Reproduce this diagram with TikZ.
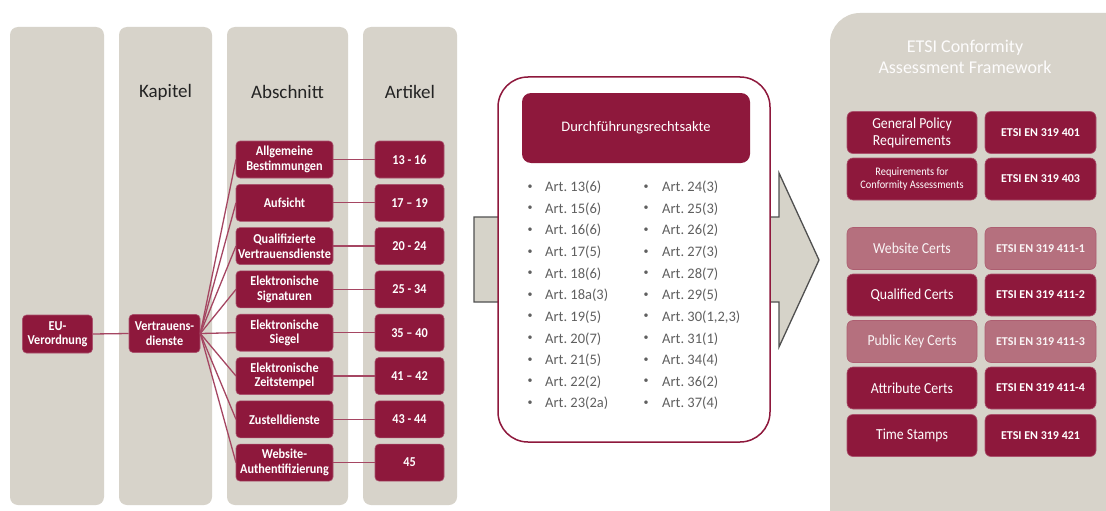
\documentclass[tikz,border=0pt]{standalone}
\usepackage{fontspec}
\setmainfont{Carlito}
\newfontfamily\condfont{Carlito}[FakeStretch=0.9, Ligatures=TeX]
\definecolor{wine}{RGB}{142,24,60}
\definecolor{rose}{RGB}{181,112,126}
\definecolor{panelgray}{RGB}{215,211,202}
\definecolor{arrowfill}{RGB}{214,211,201}
\definecolor{arrowline}{RGB}{80,80,80}
\definecolor{itemgray}{RGB}{95,95,95}
\definecolor{headtext}{RGB}{35,35,35}
\definecolor{fanline}{RGB}{165,70,98}
\begin{document}
\begin{tikzpicture}[x=1pt,y=-1pt,
  colpanel/.style={fill=panelgray, rounded corners=8pt},
  colhead/.style={text=headtext, font=\fontsize{19}{22}\selectfont},
  sectbox/.style={fill=wine, draw=wine!75!white, line width=0.6pt,
    rounded corners=4pt, text=white, align=center,
    minimum width=97pt, minimum height=37pt, inner sep=0pt,
    font=\condfont\fontsize{13.6}{14.5}\selectfont\bfseries},
  artbox/.style={sectbox, minimum width=69pt},
  rootbox/.style={sectbox, minimum width=70pt, minimum height=38pt},
  fan/.style={draw=fanline, line width=1.3pt},
  item/.style={anchor=west, text=itemgray, inner sep=0pt,
    font=\fontsize{14.5}{16}\selectfont},
  dot/.style={anchor=center, text=itemgray, inner sep=0pt,
    font=\fontsize{10}{10}\selectfont},
  etsileft/.style={fill=wine, draw=wine!75!white, line width=0.6pt,
    rounded corners=6pt, text=white, align=center,
    minimum width=130pt, minimum height=42pt, inner sep=0pt,
    font=\condfont\fontsize{15.3}{17}\selectfont},
  etsiright/.style={etsileft, minimum width=111pt,
    font=\fontsize{12}{14}\selectfont\bfseries},
  pale/.style={fill=rose, draw=rose!80!wine, text=white!92!rose}]
\useasboundingbox (0,0) rectangle (1106,511);
\fill[white] (0,0) rectangle (1106,511);

% column panels
\fill[colpanel] (10,27) rectangle (104,505);
\fill[colpanel] (119,27) rectangle (212,505);
\fill[colpanel] (227,27) rectangle (348,505);
\fill[colpanel] (363,27) rectangle (457,505);
\node[colhead] (hkap) at (165.5,92) {Kapitel};
\node[colhead] (habs) at (287.5,92) {Abschnitt};
\node[colhead] (hart) at (410,92) {Artikel};

% root and chapter
\node[rootbox] (eu) at (57.5,334) {EU-\\Verordnung};
\node[rootbox, minimum width=71pt] (vd) at (164.5,333.5) {Vertrauens-\\dienste};
\draw[fan] (eu.east) -- (vd.west);

% sections and articles
\foreach \i/\sec/\art in {
  1/{Allgemeine\\Bestimmungen}/{13 - 16},
  2/{Aufsicht}/{17 – 19},
  3/{Qualifizierte\\Vertrauensdienste}/{20 - 24},
  4/{Elektronische\\Signaturen}/{25 - 34},
  5/{Elektronische\\Siegel}/{35 – 40},
  6/{Elektronische\\Zeitstempel}/{41 – 42},
  7/{Zustelldienste}/{43 - 44},
  8/{Website-\\Authentifizierung}/{45}} {
  \pgfmathsetmacro{\yc}{159.5+43.3*(\i-1)}
  \draw[fan] (vd.east) -- (284.5-48.5,\yc);
  \draw[fan] (284.5+48.5,\yc) -- (409.5-34.5,\yc);
  \node[sectbox] (s\i) at (284.5,\yc) {\sec};
  \node[artbox] (a\i) at (409.5,\yc) {\art};
}

% large block arrow behind the implementing acts
\draw[fill=arrowfill, draw=arrowline, line width=1.3pt, line join=miter]
  (474,217) -- (779,217) -- (779,173) -- (819,260) -- (779,347)
  -- (779,302) -- (474,302) -- cycle;

% implementing acts
\node[draw=wine, line width=1.5pt, fill=white, rounded corners=30pt,
  minimum width=272pt, minimum height=365pt, inner sep=0pt] (acts) at (634,259.5) {};
\node[fill=wine, rounded corners=9pt, text=white, minimum width=228pt,
  minimum height=70pt, inner sep=0pt, font=\fontsize{14.5}{16}\selectfont]
  (actshead) at (636,128) {Durchführungsrechtsakte};
\foreach \i/\l/\r in {1/13(6)/24(3), 2/15(6)/25(3), 3/16(6)/26(2), 4/17(5)/27(3),
  5/18(6)/28(7), 6/18a(3)/29(5), 7/19(5)/30(1{,}2{,}3), 8/20(7)/31(1),
  9/21(5)/34(4), 10/22(2)/36(2), 11/23(2a)/37(4)} {
  \pgfmathsetmacro{\yc}{187.5+21.6*(\i-1)}
  \node[dot] (bl\i) at (530,\yc-0.5) {•};
  \node[item] (l\i) at (545,\yc) {Art.~\l};
  \node[dot] (br\i) at (646,\yc-0.5) {•};
  \node[item] (r\i) at (662,\yc) {Art.~\r};
}

% ETSI framework
\fill[panelgray, rounded corners=30pt] (830,13) rectangle (1140,540);
\node[text=white!94!panelgray, align=center,
  font=\fontsize{18}{21}\selectfont] (etsititle) at (965,57)
  {ETSI Conformity\\Assessment Framework};
\foreach \i/\yc/\l/\r/\st in {
  1/132.5/{General Policy\\Requirements}/{ETSI EN 319 401}/{},
  2/179/{}/{ETSI EN 319 403}/{},
  3/248.5/{Website Certs}/{ETSI EN 319 411-1}/pale,
  4/295/{Qualified Certs}/{ETSI EN 319 411-2}/{},
  5/341.5/{Public Key Certs}/{ETSI EN 319 411-3}/pale,
  6/388/{Attribute Certs}/{ETSI EN 319 411-4}/{},
  7/435.5/{Time Stamps}/{ETSI EN 319 421}/{}} {
  \node[etsileft, \st] (e\i) at (912,\yc) {\l};
  \node[etsiright, \st] (n\i) at (1040.5,\yc) {\r};
}
\node[align=center, text=white, font=\condfont\fontsize{11.5}{12.5}\selectfont] (e2txt) at (e2)
  {Requirements for\\Conformity Assessments};
\end{tikzpicture}
\end{document}
